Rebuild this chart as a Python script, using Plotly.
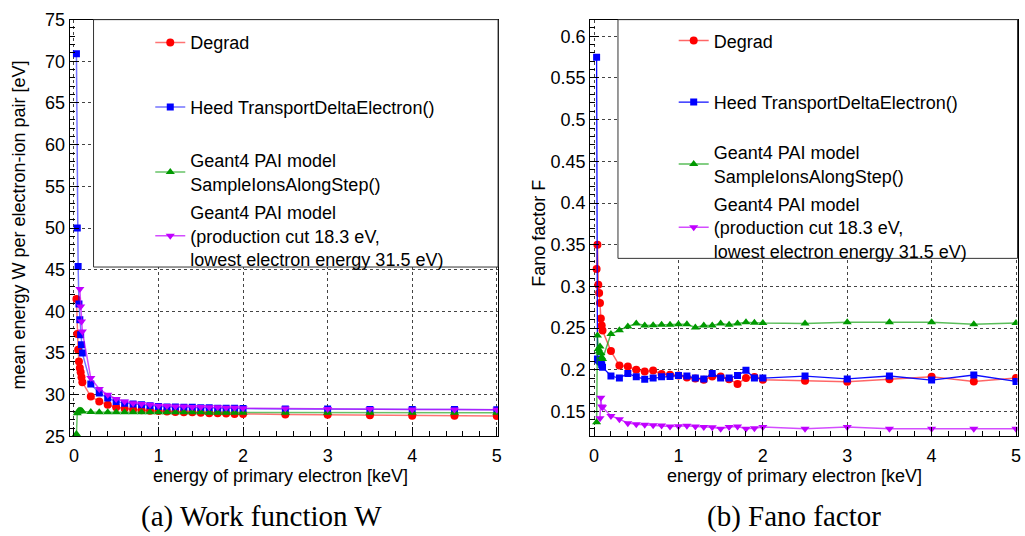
import plotly.graph_objects as go

W_PX, H_PX = 1025, 536

# ---------------- data ----------------
energy = [0.03, 0.04, 0.05, 0.06, 0.07, 0.08, 0.09, 0.1,
          0.2, 0.3, 0.4, 0.5, 0.6, 0.7, 0.8, 0.9, 1.0,
          1.1, 1.2, 1.3, 1.4, 1.5, 1.6, 1.7, 1.8, 1.9, 2.0,
          2.5, 3.0, 3.5, 4.0, 4.5, 5.0]
energy_cut = energy[4:]

W_degrad = [41.5, 37.3, 35.4, 34.0, 33.2, 32.7, 32.1, 31.5,
            29.8, 29.2, 28.8, 28.5, 28.35, 28.25, 28.15, 28.1, 28.05,
            28.0, 27.95, 27.9, 27.9, 27.85, 27.8, 27.8, 27.75, 27.7, 27.7,
            27.65, 27.6, 27.55, 27.5, 27.5, 27.45]
W_heed = [70.9, 50.0, 45.4, 40.9, 39.0, 37.2, 36.0, 35.0,
          31.3, 30.2, 29.6, 29.2, 29.0, 28.9, 28.8, 28.7, 28.6,
          28.55, 28.55, 28.5, 28.5, 28.45, 28.45, 28.4, 28.4, 28.4, 28.35,
          28.3, 28.3, 28.25, 28.25, 28.25, 28.2]
W_g4 = [25.3, 27.8, 28.0, 28.1, 28.1, 28.1, 28.05, 28.0,
        27.95, 27.9, 27.9, 27.9, 27.9, 27.9, 27.9, 27.9, 27.9,
        27.9, 27.9, 27.9, 27.9, 27.9, 27.85, 27.85, 27.85, 27.85, 27.85,
        27.85, 27.85, 27.85, 27.85, 27.85, 27.85]
W_g4cut = [42.7, 40.6, 38.8, 37.6,
           32.0, 30.7, 30.0, 29.5, 29.2, 29.0, 28.9, 28.8, 28.7,
           28.65, 28.6, 28.6, 28.55, 28.55, 28.5, 28.5, 28.45, 28.45, 28.4,
           28.35, 28.3, 28.3, 28.25, 28.25, 28.2]

F_degrad = [0.321, 0.350, 0.302, 0.292, 0.280, 0.2615, 0.253, 0.247,
            0.2224, 0.205, 0.204, 0.200, 0.198, 0.199, 0.195, 0.194, 0.193,
            0.1906, 0.1895, 0.188, 0.192, 0.192, 0.1887, 0.183, 0.190, 0.1914, 0.188,
            0.1868, 0.1856, 0.1887, 0.1917, 0.186, 0.190]
F_heed = [0.575, 0.213, 0.212, 0.211, 0.210, 0.209, 0.206, 0.203,
          0.1925, 0.190, 0.1956, 0.1915, 0.1887, 0.190, 0.1915, 0.192, 0.193,
          0.1925, 0.190, 0.189, 0.1956, 0.190, 0.190, 0.193, 0.1994, 0.190, 0.190,
          0.1925, 0.189, 0.1925, 0.1876, 0.1937, 0.186]
F_g4 = [0.137, 0.241, 0.225, 0.222, 0.228, 0.220, 0.215, 0.213,
        0.243, 0.2473, 0.252, 0.2554, 0.253, 0.2535, 0.254, 0.254, 0.2546,
        0.2546, 0.2508, 0.253, 0.253, 0.2554, 0.254, 0.2556, 0.2569, 0.2565, 0.256,
        0.2556, 0.2569, 0.2569, 0.2569, 0.2546, 0.256]
F_g4cut = [0.142, 0.1665, 0.156, 0.155,
           0.1446, 0.1408, 0.136, 0.1347, 0.134, 0.1336, 0.1332, 0.132, 0.1324,
           0.133, 0.132, 0.1313, 0.131, 0.1293, 0.1313, 0.132, 0.1293, 0.130, 0.1313,
           0.1293, 0.1313, 0.1293, 0.1293, 0.1293, 0.1293]

names = ["Degrad",
         "Heed TransportDeltaElectron()",
         "Geant4 PAI model<br>SampleIonsAlongStep()",
         "Geant4 PAI model<br>(production cut 18.3 eV,<br>lowest electron energy 31.5 eV)"]

x_title = "energy of primary electron [keV]"
y_title_left = "mean energy W per electron-ion pair [eV]"
y_title_right = "Fano factor F"
captions = ["(a) Work function W", "(b) Fano factor"]


def px(x):
    return x / W_PX


def py(y):
    return 1 - y / H_PX


FONT = "Liberation Sans, Arial, Helvetica, sans-serif"

styles_left = [
    dict(marker=dict(symbol="circle", size=8, color="#ff0000"), line=dict(color="rgba(255,0,0,0.55)", width=1.5)),
    dict(marker=dict(symbol="square", size=7, color="#0000ff"), line=dict(color="rgba(0,0,255,0.55)", width=1.5)),
    dict(marker=dict(symbol="triangle-up", size=8, color="#009900"), line=dict(color="rgba(0,153,0,0.6)", width=1.5)),
    dict(marker=dict(symbol="triangle-down", size=8, color="#c000ff"), line=dict(color="rgba(192,0,255,0.7)", width=1.5)),
]
styles_right = [
    dict(marker=dict(symbol="circle", size=8, color="#ff0000"), line=dict(color="rgba(255,0,0,0.6)", width=1.5)),
    dict(marker=dict(symbol="square", size=7, color="#0000ff"), line=dict(color="rgba(0,0,255,0.95)", width=1.3)),
    dict(marker=dict(symbol="triangle-up", size=8, color="#009900"), line=dict(color="rgba(0,153,0,0.65)", width=1.5)),
    dict(marker=dict(symbol="triangle-down", size=8, color="#c000ff"), line=dict(color="rgba(192,0,255,0.7)", width=1.5)),
]

fig = go.Figure()

left_sets = [(energy, W_degrad), (energy, W_heed), (energy, W_g4), (energy_cut, W_g4cut)]
right_sets = [(energy, F_degrad), (energy, F_heed), (energy, F_g4), (energy_cut, F_g4cut)]

for i, (xs, ys) in enumerate(left_sets):
    fig.add_trace(go.Scatter(x=xs, y=ys, mode="lines+markers", name=names[i], showlegend=True,
                             xaxis="x", yaxis="y", legend=("legend" if i == 0 else f"legend{i + 1}"),
                             **styles_left[i]))
for i, (xs, ys) in enumerate(right_sets):
    fig.add_trace(go.Scatter(x=xs, y=ys, mode="lines+markers", name=names[i], showlegend=True,
                             xaxis="x2", yaxis="y2", legend=f"legend{i + 5}",
                             **styles_right[i]))

axis_common = dict(showline=True, mirror=True, linecolor="black", linewidth=1,
                   ticks="inside", ticklen=9, tickcolor="black", tickwidth=1,
                   showgrid=True, gridcolor="#444444", griddash="dot", gridwidth=1,
                   zeroline=False, tickfont=dict(family=FONT, size=18, color="black"))

layout = dict(
    width=W_PX, height=H_PX, margin=dict(l=0, r=0, t=0, b=0),
    paper_bgcolor="white", plot_bgcolor="white", showlegend=True,
    font=dict(family=FONT, size=18, color="black"),
    xaxis=dict(domain=[px(69), px(499.5)], range=[-0.05, 5.015], dtick=1, anchor="y",
               ticklabelstandoff=3,
               minor=dict(ticks="inside", ticklen=5, dtick=0.2, tickcolor="black", showgrid=False),
               **axis_common),
    yaxis=dict(domain=[py(443), py(10)], range=[25, 75], dtick=5, anchor="x",
               minor=dict(ticks="inside", ticklen=5, dtick=1, tickcolor="black", showgrid=False),
               **axis_common),
    xaxis2=dict(domain=[px(592), px(1021.5)], range=[-0.047, 5.018], dtick=1, anchor="y2",
                ticklabelstandoff=3,
                minor=dict(ticks="inside", ticklen=5, dtick=0.2, tickcolor="black", showgrid=False),
                **axis_common),
    yaxis2=dict(domain=[py(443), py(10)], range=[0.12, 0.62], dtick=0.05, anchor="x2",
                minor=dict(ticks="inside", ticklen=5, dtick=0.01, tickcolor="black", showgrid=False),
                **axis_common),
)

# legend positions (symbol centre y)
left_leg_y = [34, 101, 168.5, 235]
right_leg_y = [32, 96, 160, 226]
for i in range(8):
    key = "legend" if i == 0 else f"legend{i + 1}"
    if i < 4:
        lx, ly = 150, left_leg_y[i]
    else:
        lx, ly = 676, right_leg_y[i - 4]
    layout[key] = dict(x=px(lx), y=py(ly), xanchor="left", yanchor="middle",
                       bgcolor="rgba(0,0,0,0)", borderwidth=0, visible=True,
                       font=dict(family=FONT, size=18, color="black"),
                       valign="middle", itemclick=False, itemdoubleclick=False)

layout["shapes"] = [
    dict(type="rect", xref="paper", yref="paper", x0=px(93), x1=px(499.5), y0=py(267), y1=py(10),
         fillcolor="white", line=dict(color="#333333", width=1), layer="above"),
    dict(type="rect", xref="paper", yref="paper", x0=px(620), x1=px(1021.5), y0=py(258), y1=py(10),
         fillcolor="white", line=dict(color="#333333", width=1), layer="above"),
]

layout["annotations"] = [
    dict(text=x_title, x=px(281), y=py(484), xref="paper", yref="paper", showarrow=False,
         xanchor="center", yanchor="middle", font=dict(family=FONT, size=18)),
    dict(text=x_title, x=px(797), y=py(484), xref="paper", yref="paper", showarrow=False,
         xanchor="center", yanchor="middle", font=dict(family=FONT, size=18)),
    dict(text=y_title_left, x=px(18), y=py(223), xref="paper", yref="paper", showarrow=False,
         xanchor="center", yanchor="middle", textangle=-90, font=dict(family=FONT, size=18)),
    dict(text=y_title_right, x=px(541), y=py(232), xref="paper", yref="paper", showarrow=False,
         xanchor="center", yanchor="middle", textangle=-90, font=dict(family=FONT, size=18)),
    dict(text=captions[0], x=px(262), y=py(526), xref="paper", yref="paper", showarrow=False,
         xanchor="center", yanchor="middle", font=dict(family="Liberation Serif, serif", size=29)),
    dict(text=captions[1], x=px(797), y=py(526), xref="paper", yref="paper", showarrow=False,
         xanchor="center", yanchor="middle", font=dict(family="Liberation Serif, serif", size=29)),
]

fig.update_layout(**layout)
fig.write_html("out.html")
